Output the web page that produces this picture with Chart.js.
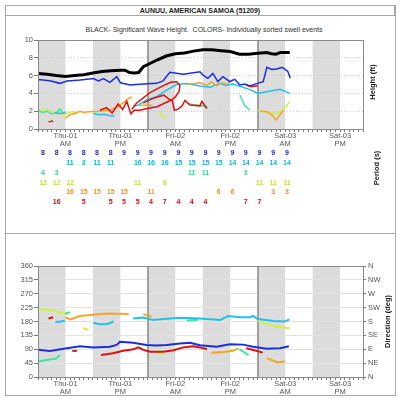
<!DOCTYPE html>
<html>
<head>
<meta charset="utf-8">
<script src="https://cdn.jsdelivr.net/npm/chart.js@4.4.1/dist/chart.umd.min.js"></script>
<style>
  body { margin: 0; background: #fff; font-family: "Liberation Sans", Arial, sans-serif; }
  #wrap { position: relative; width: 400px; height: 399px; overflow: hidden; }
  .frame { position: absolute; left: 5px; top: 5px; width: 389px; height: 389px; border: 1px solid #a8a8a8; }
  .titlebar { position: absolute; left: 5px; top: 5px; width: 388px; height: 9px; border: 1px solid #a8a8a8;
              font-size: 7px; font-weight: bold; color: #222; text-align: center; line-height: 10px; }
  .sep { position: absolute; left: 5px; top: 233px; width: 390px; height: 0; border-top: 1px solid #a8a8a8; }
  .subtitle { position: absolute; left: 0; top: 26px; width: 408px; text-align: center; font-size: 7px; color: #333; }
  canvas { position: absolute; left: 0; }
</style>
</head>
<body>
<div id="wrap">
  <div class="frame"></div>
  <div class="titlebar">AUNUU, AMERICAN SAMOA (51209)</div>
  <div class="sep"></div>
  <div class="subtitle">BLACK- Significant Wave Height.&nbsp; COLORS- Individually sorted swell events</div>
  <canvas id="heightChart" width="400" height="233" style="top:0"></canvas>
  <canvas id="dirChart" width="400" height="166" style="top:233px"></canvas>
</div>
<script>
// --- AXES ---
const hourMax = 71;
const tickHours = [6, 18, 30, 42, 54, 66];
const tickDays = ['Thu-01', 'Thu-01', 'Fri-02', 'Fri-02', 'Sat-03', 'Sat-03'];
const tickHalves = ['AM', 'PM', 'AM', 'PM', 'AM', 'PM'];
const nightStarts = [0, 12, 24, 36, 48, 60];
const dayBreaks = [24, 48];
const dirLabels = ['N', 'NE', 'E', 'SE', 'S', 'SW', 'W', 'NW', 'N'];

// --- HEIGHT (ft), [hour, value] ---
const blackHt = [[0,6.25],[2,6.15],[4,6.0],[6,5.9],[8,6.0],[10,6.1],[12,6.3],[14,6.45],[16,6.55],[18,6.6],[19,6.6],[20,6.35],[21,6.3],[22,6.35],[23,7.0],[24,7.25],[26,7.75],[28,8.2],[30,8.45],[32,8.55],[34,8.75],[36,8.9],[38,8.9],[40,8.8],[42,8.7],[44,8.4],[46,8.4],[48,8.5],[50,8.6],[51,8.45],[52,8.4],[53,8.6],[55,8.6]];
const blueHt = [[0,5.55],[2.6,5.43],[4.8,5.13],[6.3,5.4],[9.2,5.5],[12.1,5.67],[13.2,5.4],[14.3,5.67],[15.7,5.25],[17.2,5.88],[18,5.2],[20.1,4.94],[23,5.06],[25.9,5.13],[27.3,5.4],[28.8,6.37],[31.7,6.14],[35.4,6.44],[36,6.07],[37.1,5.69],[38.2,6.25],[39.3,5.32],[40.4,5.88],[41.9,5.32],[43,5.58],[44.1,4.94],[45.2,5.06],[46.3,4.83],[47.9,5.13],[49.2,5.32],[50,6.93],[51.1,6.7],[52.2,6.74],[53.3,6.93],[54,6.7],[54.6,6.44],[55.1,5.69]];
const cyanHt1 = [[3.7,1.8],[5,1.75],[6,1.85]];
const cyanHt2 = [[12.1,1.75],[13.5,1.6],[14.5,1.65],[16,1.45],[16.7,1.5]];
const cyanHt3 = [[20.8,2.55],[22,2.7],[23.7,3.26],[25.9,3.63],[27,4.0],[28.1,4.38],[30.3,5.0],[32.5,5.1],[35.4,4.83],[37.6,4.68],[39.8,5.13],[41,4.9],[42.6,5.06],[44.8,4.68],[46.5,4.4],[48,4.0],[50,4.19],[52.9,4.46],[55,4.0]];
const greenHt1 = [[0,2.1],[1,1.85],[2,2.0],[3,1.7],[4,1.85],[4.8,2.25],[5.5,1.8],[6,1.9]];
const greenHt2 = [[32.5,2.9],[34,2.7],[35.5,2.65],[37,2.45]];
const greenHt3 = [[44.1,3.8],[45.2,2.6],[46.3,2.1]];
const yellowHt1 = [[0,2.0],[1.5,2.15],[3,2.0],[4.5,1.75],[6,1.7],[7.5,1.95],[8.5,1.7]];
const yellowHt2 = [[26.5,1.9],[27.3,1.5],[28,1.2]];
const yellowHt3 = [[48,2.1],[50,1.85],[52,1.75],[53.5,2.1],[55,3.1]];
const orangeHt1 = [[5.9,1.2],[7,1.6],[8,1.75],[9.2,2.0],[10,1.85],[11,1.95],[13.5,2.0],[15.7,2.15],[17.5,2.5],[18.5,2.9],[19.7,3.4],[20.5,3.6]];
const orangeHt2 = [[22.3,2.65],[24,2.7],[25,2.6]];
const orangeHt3 = [[32.5,5.0],[35.4,5.2],[36.9,4.9],[37.9,5.3],[39,4.85],[40.1,5.2],[41.2,5.05],[42.7,5.6]];
const orangeHt4 = [[48.5,2.0],[50,1.95],[51.1,1.6],[52,1.0],[52.9,1.6],[53.6,2.1]];
const redHt1 = [[2.3,0.8],[3.3,0.9]];
const redHt2 = [[13.5,2.1],[15,2.4],[16.2,1.8],[17.5,2.8],[18.5,2.2],[19.4,3.1],[20.3,1.7],[21,2.1],[22.3,2.1],[23.8,2.3],[26,2.5],[28.1,3.0],[29.3,3.3],[29.8,2.1],[30.5,2.2],[31.5,2.6],[32.1,3.2],[33.2,2.7],[35.4,2.6],[35.8,3.1],[36.9,2.3]];
const redHt3 = [[20.5,2.2],[21.5,2.9],[23,3.5],[24.5,4.1],[26,4.5],[27.5,4.9],[29,5.25],[30.3,5.3],[31,4.9],[30.8,4.2],[30,3.6],[29,3.2],[27.5,3.8],[26,3.6],[24.5,3.3],[23,2.9]];
const redHt4 = [[45.5,4.9],[46.5,4.75],[48,4.85]];

// --- PERIOD (s) table ---
const periodHours = [1.1,4.1,7.0,10.0,12.9,15.9,18.8,21.8,24.7,27.7,30.7,33.6,36.6,39.5,42.5,45.4,48.4,51.4,54.4];
const periodBlue = [8,8,8,8,8,8,9,9,9,9,9,9,9,9,9,9,9,9,9];
const periodCyan = [null,null,11,3,11,11,null,16,16,16,15,15,15,15,14,14,14,14,14];
const periodGreen = [4,3,null,null,null,null,null,null,null,null,null,11,11,null,null,3,null,null,null];
const periodYellow = [12,12,12,null,null,null,null,11,null,8,null,null,null,null,null,null,11,11,11];
const periodOrange = [null,null,16,15,15,15,15,null,11,null,null,null,null,6,6,null,null,3,3];
const periodRed = [null,16,null,5,null,5,5,5,4,7,4,4,4,null,null,7,7,null,null];

// --- DIRECTION (deg), [hour, value] ---
const blueDir = [[0,88],[2.6,84],[6.3,93],[9.2,100],[12.1,96],[15.7,98],[17.2,104],[17.9,114],[20.8,111],[23.7,104],[25.9,102],[28.1,104],[31,109],[33.2,111],[35.4,103],[39,98],[41.9,106],[44.8,105],[47,98],[50,92],[52.9,93],[54.8,100]];
const cyanDir1 = [[3.8,178],[5,180],[5.9,183]];
const cyanDir2 = [[12.1,176],[13.5,171],[15.2,172],[16.5,180]];
const cyanDir3 = [[20.8,190],[23,193],[25.1,185],[28.1,189],[31,192],[35.4,190],[39.8,185],[41.6,198],[44.1,194],[46.3,194],[47,198],[48,188],[51.5,182],[54,180],[54.9,187]];
const greenDir1 = [[0,50],[2.6,57],[4,60],[4.8,71]];
const greenDir2 = [[5.9,205],[7,210]];
const greenDir3 = [[32.5,183],[35,186]];
const greenDir4 = [[44,90],[46,71]];
const yellowDir1 = [[0,220],[2.6,217],[4.8,209],[6.5,204]];
const yellowDir2 = [[9.9,158],[11,152]];
const yellowDir3 = [[26,78],[27.5,76]];
const yellowDir4 = [[48,183],[51.5,165],[55,158]];
const orangeDir1 = [[5.9,194],[7,187],[9.2,198],[13.6,204],[15.7,206],[19.8,204]];
const orangeDir2 = [[23,204],[24.8,196]];
const orangeDir3 = [[37.9,79],[40.4,81],[42.6,85],[43.8,93]];
const orangeDir4 = [[50,61],[52.2,48],[54,50]];
const redDir1 = [[2.3,190],[3.3,194]];
const redDir2 = [[7.5,84],[8.5,85]];
const redDir3 = [[13.8,71],[16.4,77],[18.6,85],[20.8,90],[22,96],[23,88],[24.5,82],[27.4,82],[29.6,87],[31.7,96],[33.9,100],[35.4,96],[36.9,90]];
const redDir4 = [[45.5,93],[47.5,86],[49.1,79]];

// --- COLORS ---
const cBlue = '#1a2ee0', cCyan = '#1ec0ee', cGreen = '#3fe6a0', cYellow = '#cdf04a', cOrange = '#f5a623', cRed = '#e01010';
const tBlue = '#1a2ab8', tCyan = '#18b0e0', tGreen = '#30d890', tYellow = '#c0e040', tOrange = '#e8961a', tRed = '#d01010';

Chart.defaults.font.family = '"Liberation Sans", Arial, sans-serif';
Chart.defaults.color = '#555';

function line(arr, color, w) {
    return { data: arr.map(p => ({ x: p[0], y: p[1] })), borderColor: color, borderWidth: w || 1.5,
             showLine: true, pointRadius: 0, fill: false, tension: 0 };
}

function xAxis(h) {
    return {
        type: 'linear', min: 0, max: hourMax,
        afterBuildTicks: s => { const t = []; for (let v = 0; v <= hourMax; v++) t.push({ value: v }); s.ticks = t; },
        afterFit: s => { s.height = h; },
        ticks: {
            autoSkip: false, maxRotation: 0, padding: 0, color: '#555', font: { size: 7.5, lineHeight: 1.1 },
            callback: v => { const i = tickHours.indexOf(v); return i >= 0 ? [tickDays[i], tickHalves[i]] : ''; }
        },
        grid: { drawOnChartArea: false, drawTicks: true, tickLength: 3, color: '#777' },
        border: { display: false }
    };
}

// bands, day separators, frame, rotated titles
const panelPlugin = {
    id: 'panel',
    beforeDraw(chart) {
        const { ctx, chartArea: a, scales: { x } } = chart;
        ctx.save();
        ctx.fillStyle = '#dcdcdc';
        nightStarts.forEach(h => {
            const x0 = x.getPixelForValue(h), x1 = x.getPixelForValue(Math.min(h + 6, hourMax));
            ctx.fillRect(x0, a.top, x1 - x0, a.bottom - a.top);
        });
        ctx.restore();
    },
    beforeDatasetsDraw(chart) {
        const { ctx, chartArea: a, scales: { x } } = chart;
        ctx.save();
        ctx.strokeStyle = '#888';
        ctx.lineWidth = 1.5;
        dayBreaks.forEach(h => {
            const px = Math.round(x.getPixelForValue(h));
            ctx.beginPath(); ctx.moveTo(px, a.top); ctx.lineTo(px, a.bottom); ctx.stroke();
        });
        ctx.restore();
    },
    afterDatasetsDraw(chart) {
        const { ctx, chartArea: a } = chart;
        ctx.save();
        ctx.strokeStyle = '#8a8a8a';
        ctx.lineWidth = 1;
        ctx.strokeRect(Math.round(a.left) + 0.5, Math.round(a.top) + 0.5, Math.round(a.right - a.left), Math.round(a.bottom - a.top));
        ctx.restore();
        (chart.options.plugins.panel.titles || []).forEach(t => {
            ctx.save();
            ctx.translate(t.x, t.y);
            ctx.rotate(-Math.PI / 2);
            ctx.font = 'bold 7.5px "Liberation Sans", Arial, sans-serif';
            ctx.fillStyle = '#222';
            ctx.textAlign = 'center';
            ctx.textBaseline = 'middle';
            ctx.fillText(t.text, 0, 0);
            ctx.restore();
        });
    }
};

// period numbers under the height panel
const periodPlugin = {
    id: 'periods',
    afterDraw(chart) {
        const { ctx, chartArea: a, scales: { x } } = chart;
        const rows = [[periodBlue, tBlue], [periodCyan, tCyan], [periodGreen, tGreen],
                      [periodYellow, tYellow], [periodOrange, tOrange], [periodRed, tRed]];
        ctx.save();
        ctx.font = 'bold 7px "Liberation Sans", Arial, sans-serif';
        ctx.textAlign = 'center';
        ctx.textBaseline = 'middle';
        rows.forEach((r, j) => {
            ctx.fillStyle = r[1];
            r[0].forEach((v, i) => {
                if (v === null) return;
                ctx.fillText(String(v), x.getPixelForValue(periodHours[i]), a.bottom + 24.5 + j * 9.7);
            });
        });
        ctx.restore();
    }
};

// --- HEIGHT CHART ---
new Chart(document.getElementById('heightChart'), {
    type: 'scatter',
    data: {
        datasets: [
            line(blackHt, '#000', 3),
            line(blueHt, cBlue),
            line(redHt2, cRed), line(redHt3, cRed), line(redHt4, cRed), line(redHt1, cRed),
            line(orangeHt1, cOrange), line(orangeHt2, cOrange), line(orangeHt3, cOrange), line(orangeHt4, cOrange),
            line(cyanHt1, cCyan), line(cyanHt2, cCyan), line(cyanHt3, cCyan),
            line(greenHt1, cGreen), line(greenHt2, cGreen), line(greenHt3, cGreen),
            line(yellowHt1, cYellow), line(yellowHt2, cYellow), line(yellowHt3, cYellow)
        ]
    },
    options: {
        responsive: false, animation: false, events: [],
        layout: { padding: { left: 0, right: 37, top: 40, bottom: 78 } },
        scales: {
            x: xAxis(26),
            y: {
                min: 0, max: 10,
                afterFit: s => { s.width = 38; },
                ticks: { stepSize: 2, padding: 1, color: '#555', font: { size: 7.5 } },
                grid: { color: '#c8c8c8', tickColor: '#777', tickLength: 4, tickBorderDash: [] },
                border: { display: false, dash: [1, 2] }
            }
        },
        plugins: {
            legend: { display: false }, tooltip: { enabled: false },
            panel: { titles: [{ text: 'Height (ft)', x: 373, y: 82 }, { text: 'Period (s)', x: 377, y: 168 }] }
        }
    },
    plugins: [panelPlugin, periodPlugin]
});

// --- DIRECTION CHART ---
new Chart(document.getElementById('dirChart'), {
    type: 'scatter',
    data: {
        datasets: [
            line(blueDir, cBlue, 2),
            line(redDir1, cRed, 2), line(redDir2, cRed, 2), line(redDir3, cRed, 2), line(redDir4, cRed, 2),
            line(orangeDir1, cOrange, 2), line(orangeDir2, cOrange, 2), line(orangeDir3, cOrange, 2), line(orangeDir4, cOrange, 2),
            line(cyanDir1, cCyan, 2), line(cyanDir2, cCyan, 2), line(cyanDir3, cCyan, 2),
            line(greenDir1, cGreen, 2), line(greenDir2, cGreen, 2), line(greenDir3, cGreen, 2), line(greenDir4, cGreen, 2),
            line(yellowDir1, cYellow, 2), line(yellowDir2, cYellow, 2), line(yellowDir3, cYellow, 2), line(yellowDir4, cYellow, 2)
        ]
    },
    options: {
        responsive: false, animation: false, events: [],
        layout: { padding: { left: 0, right: 15, top: 33, bottom: 2 } },
        scales: {
            x: xAxis(20),
            y: {
                min: 0, max: 360,
                afterFit: s => { s.width = 38; },
                ticks: { stepSize: 45, padding: 1, color: '#555', font: { size: 7.5 } },
                grid: { color: '#e2e2e2', tickColor: '#777', tickLength: 4 },
                border: { display: false }
            },
            y2: {
                position: 'right', min: 0, max: 360,
                afterFit: s => { s.width = 22; },
                ticks: { stepSize: 45, padding: 2, color: '#555', font: { size: 7.5 }, callback: v => dirLabels[v / 45] },
                grid: { drawOnChartArea: false, tickColor: '#777', tickLength: 3 },
                border: { display: false }
            }
        },
        plugins: {
            legend: { display: false }, tooltip: { enabled: false },
            panel: { titles: [{ text: 'Direction (deg)', x: 388, y: 88.5 }] }
        }
    },
    plugins: [panelPlugin]
});
</script>
</body>
</html>
